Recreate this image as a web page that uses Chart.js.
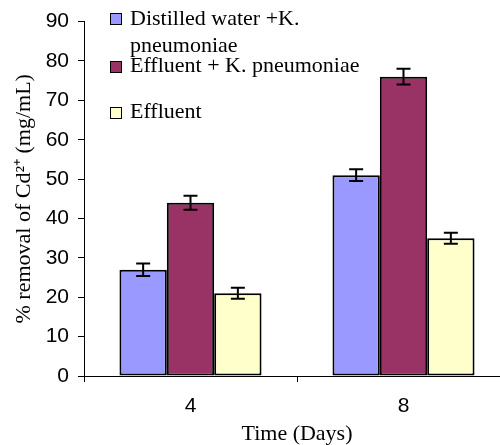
<!DOCTYPE html>
<html>
<head>
<meta charset="utf-8">
<script src="https://cdn.jsdelivr.net/npm/chart.js@4.4.0/dist/chart.umd.min.js"></script>
<style>
  html, body { margin: 0; padding: 0; background: #fff; overflow: hidden; }
  #wrap { position: relative; width: 500px; height: 445px; overflow: hidden; }
  #grafico { position: absolute; left: 0; top: 0; }
  .leg { position: absolute; left: 110px; font-family: "Liberation Serif", serif; font-size: 22px; line-height: 27px; color: #000; }
  .leg .caixa { position: absolute; left: 0; width: 10px; height: 10px; border: 1.5px solid #000; }
  .leg .texto { position: absolute; left: 20px; top: 0; width: 250px; white-space: normal; }
</style>
</head>
<body>
<div id="wrap">
  <canvas id="grafico" width="520" height="445"></canvas>
  <div id="legenda"></div>
</div>
<script>
// Dados
const dias = ["4", "8"];
const rotulos = ["Distilled water +K. pneumoniae", "Effluent + K. pneumoniae", "Effluent"];
const aguaDestilada = [27, 51];
const efluenteKp = [44, 76];
const efluente = [21, 35];
const erroAgua = [1.6, 1.5];
const erroEfluenteKp = [1.8, 2.0];
const erroEfluente = [1.4, 1.4];
const ticksY = [0, 10, 20, 30, 40, 50, 60, 70, 80, 90];

const cores = ["#9999ff", "#993366", "#ffffcc"];
const valores = [aguaDestilada, efluenteKp, efluente];
const erros = [erroAgua, erroEfluenteKp, erroEfluente];

// Plugin simples para as barras de erro
const barrasDeErro = {
    id: "barrasDeErro",
    afterDatasetsDraw(chart) {
        const ctx = chart.ctx;
        const y = chart.scales.y;
        ctx.save();
        ctx.strokeStyle = "#000";
        ctx.lineWidth = 2;
        chart.data.datasets.forEach((ds, i) => {
            const meta = chart.getDatasetMeta(i);
            meta.data.forEach((barra, j) => {
                const e = ds.erro[j];
                const topo = y.getPixelForValue(ds.data[j] + e);
                const base = y.getPixelForValue(ds.data[j] - e);
                ctx.beginPath();
                ctx.moveTo(barra.x, topo);
                ctx.lineTo(barra.x, base);
                ctx.moveTo(barra.x - 7, topo);
                ctx.lineTo(barra.x + 7, topo);
                ctx.moveTo(barra.x - 7, base);
                ctx.lineTo(barra.x + 7, base);
                ctx.stroke();
            });
        });
        ctx.restore();
    }
};

const grafico = new Chart(document.getElementById("grafico").getContext("2d"), {
    type: "bar",
    data: {
        labels: dias,
        datasets: rotulos.map((r, i) => ({
            label: r,
            data: valores[i],
            erro: erros[i],
            backgroundColor: cores[i],
            borderColor: "#000",
            borderWidth: 2,
            borderSkipped: false,
            categoryPercentage: 0.667,
            barPercentage: 1.0
        }))
    },
    options: {
        responsive: false,
        animation: false,
        layout: { padding: { top: 21, right: 10, left: 0, bottom: 0 } },
        plugins: {
            legend: { display: false },
            tooltip: { enabled: false }
        },
        scales: {
            x: {
                grid: { offset: true, drawOnChartArea: false, drawTicks: true, tickLength: 6, color: "#000" },
                border: { display: true, color: "#000", width: 1 },
                ticks: { color: "#000", font: { family: "Liberation Sans", size: 21 }, padding: 12 },
                title: {
                    display: true,
                    text: "Time (Days)",
                    color: "#000",
                    font: { family: "Liberation Serif", size: 22, lineHeight: 1.0 },
                    padding: { top: 0, bottom: 0 }
                },
                afterFit(scale) { scale.height = 69; }
            },
            y: {
                min: 0,
                max: 90,
                afterBuildTicks(scale) { scale.ticks = ticksY.map(v => ({ value: v })); },
                grid: { drawOnChartArea: false, drawTicks: true, tickLength: 6, color: "#000" },
                border: { display: true, color: "#000", width: 1 },
                ticks: { color: "#000", font: { family: "Liberation Sans", size: 21 }, padding: 9 },
                title: {
                    display: true,
                    text: "% removal of Cd\u00b2\u207a (mg/mL)",
                    color: "#000",
                    font: { family: "Liberation Serif", size: 22, lineHeight: 1.0 },
                    padding: { top: 13, bottom: 0 }
                },
                afterFit(scale) { scale.width = 84; }
            }
        }
    },
    plugins: [barrasDeErro]
});

// Legenda em HTML (posições iguais às do original)
const topos = [4, 51, 97];
const caixas = [9, 10, 10];
const legenda = document.getElementById("legenda");
rotulos.forEach((r, i) => {
    const item = document.createElement("div");
    item.className = "leg";
    item.style.top = topos[i] + "px";
    const caixa = document.createElement("span");
    caixa.className = "caixa";
    caixa.style.top = caixas[i] + "px";
    caixa.style.background = cores[i];
    const texto = document.createElement("span");
    texto.className = "texto";
    texto.textContent = r;
    item.appendChild(caixa);
    item.appendChild(texto);
    legenda.appendChild(item);
});
</script>
</body>
</html>
